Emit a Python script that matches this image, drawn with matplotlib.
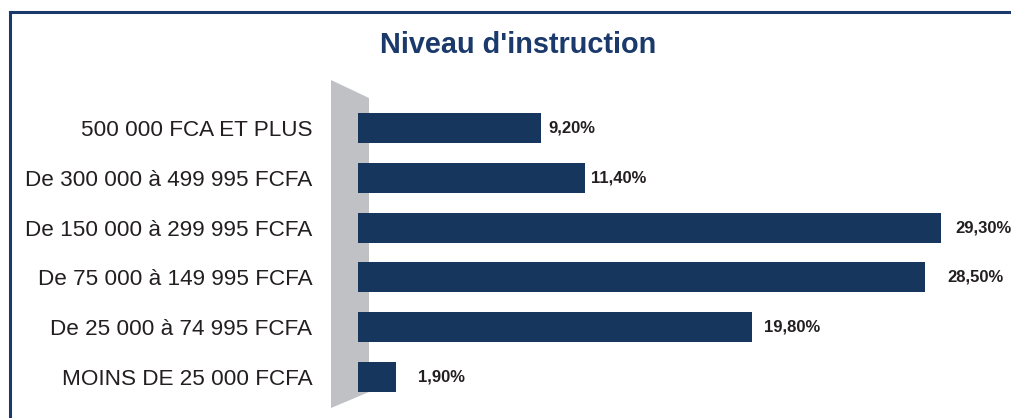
import matplotlib.pyplot as plt
from matplotlib.patches import Polygon
from matplotlib.lines import Line2D

# data
categories = [
    "MOINS DE 25 000 FCFA",
    "De 25 000 à 74 995 FCFA",
    "De 75 000 à 149 995 FCFA",
    "De 150 000 à 299 995 FCFA",
    "De 300 000 à 499 995 FCFA",
    "500 000 FCA ET PLUS",
]
values = [1.9, 19.8, 28.5, 29.3, 11.4, 9.2]
value_labels = ["1,90%", "19,80%", "28,50%", "29,30%", "11,40%", "9,20%"]

navy = "#17365d"
title_col = "#1b3a6b"
text_col = "#231f20"

W, H = 1011, 418
fig = plt.figure(figsize=(W / 100, H / 100), dpi=100)
plt.rcParams['font.family'] = ['Liberation Sans', 'DejaVu Sans']


def px(x, y):
    return (x / W, 1 - y / H)


# grey wall behind the bars
wall = Polygon([px(331, 80), px(369, 98), px(369, 392), px(331, 408)],
               closed=True, facecolor="#c0c1c4", edgecolor="none",
               transform=fig.transFigure, zorder=-1)
fig.add_artist(wall)

# frame lines (top and left)
fig.add_artist(Line2D([10 / W, 1], [1 - 12 / H, 1 - 12 / H],
                      transform=fig.transFigure, color=title_col, lw=2.2))
fig.add_artist(Line2D([10 / W, 10 / W], [1 - 12 / H, 0],
                      transform=fig.transFigure, color=title_col, lw=2.2))

# axes placed in pixels
x0 = 358
scale = 19.9  # px per %
ax = fig.add_axes([x0 / W, 0, (W - x0) / W, (H - 80) / H])
ax.patch.set_alpha(0)

pos = list(range(len(categories)))
ax.barh(pos, values, height=0.6, color=navy, zorder=2)
ax.set_xlim(0, (W - x0) / scale)
ax.set_ylim(-0.823, 5.964)

offsets = [22, 12, 22, 14, 6, 7]
for p, v, lab, off in zip(pos, values, value_labels, offsets):
    ax.annotate(lab, (v, p), xytext=(off * 0.72, 0), textcoords="offset points",
                ha="left", va="center", fontsize=12, fontweight="bold",
                color=text_col)

ax.set_yticks(pos)
ax.set_yticklabels(categories, fontsize=16.2, color=text_col)
ax.tick_params(axis="y", length=0, pad=33)
ax.set_xticks([])
for s in ax.spines.values():
    s.set_visible(False)

fig.text(518 / W, 1 - 45 / H, "Niveau d'instruction", ha="center", va="center",
         fontsize=20.8, fontweight="bold", color=title_col)

fig.savefig("out.png", dpi=100)
